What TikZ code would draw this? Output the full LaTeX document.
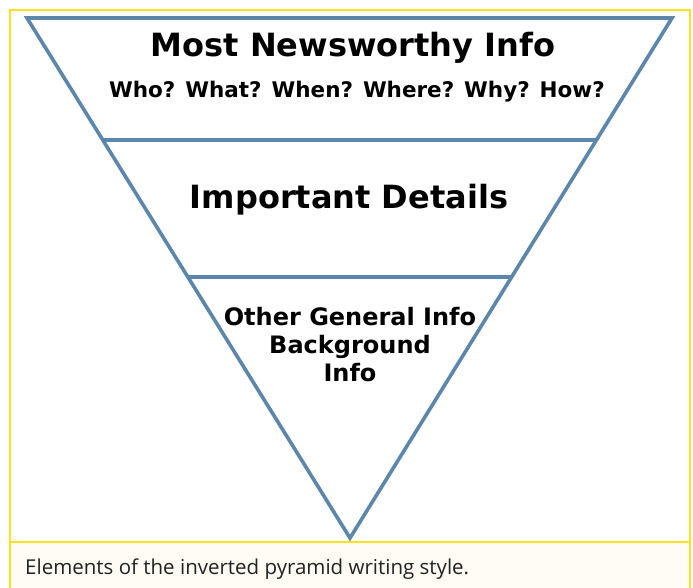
\documentclass[tikz,border=0pt]{standalone}
\usepackage{fontspec}
\setmainfont{DejaVu Sans}
\newfontfamily\capfont{Open Sans}
\usetikzlibrary{positioning, calc}
\definecolor{steel}{RGB}{92,135,170}
\definecolor{frameyel}{RGB}{255,226,30}
\definecolor{capbg}{RGB}{254,252,244}
\definecolor{captxt}{RGB}{34,34,34}

\begin{document}
\begin{tikzpicture}[x=1pt,y=-1pt,
  edge/.style={draw=steel,line width=3.6pt,line join=miter},
  rule/.style={draw=steel,line width=3.6pt},
  big/.style={font=\fontsize{32}{38}\selectfont\bfseries,anchor=base,inner sep=0pt},
  sub/.style={font=\fontsize{21.5}{26}\selectfont\bfseries,anchor=base,inner sep=0pt},
  mid/.style={font=\fontsize{24}{28}\selectfont\bfseries,align=center,
              anchor=base,inner sep=0pt},
  captext/.style={font=\capfont\fontsize{20.5}{24}\selectfont,text=captxt,
              anchor=base west,inner sep=0pt}
]
\useasboundingbox (0,0) rectangle (693,588);

%% frame + caption band
\fill[capbg] (10,542) rectangle (690,600);
\draw[frameyel,line width=1.6pt] (10,600) -- (10,10) -- (690,10) -- (690,600);
\draw[frameyel,line width=1.8pt] (10,542) -- (690,542);

%% pyramid corners
\coordinate (TL) at (27,18);
\coordinate (TR) at (672,18);
\coordinate (BV) at (350,538);

% band dividers on the two slopes
\coordinate (L1) at ($(TL)!0.235!(BV)$);
\coordinate (R1) at ($(TR)!0.235!(BV)$);
\coordinate (L2) at ($(TL)!0.498!(BV)$);
\coordinate (R2) at ($(TR)!0.498!(BV)$);

\draw[edge] (TL) -- (TR) -- (BV) -- cycle;
\draw[rule] (L1) -- (R1);
\draw[rule] (L2) -- (R2);

%% band texts (multi-line base = last line)
\node[big] (top)  at (353,57)  {Most Newsworthy Info};
\node[sub] (ws)   at (357,98)  {Who? What? When? Where? Why? How?};
\node[big] (imp)  at (349,208) {Important Details};
\node[mid] (oth)  at (350,381) {Other General Info\\Background\\Info};

%% caption
\node[captext] (capt) at (25,574) {Elements of the inverted pyramid writing style.};

\end{tikzpicture}
\end{document}
